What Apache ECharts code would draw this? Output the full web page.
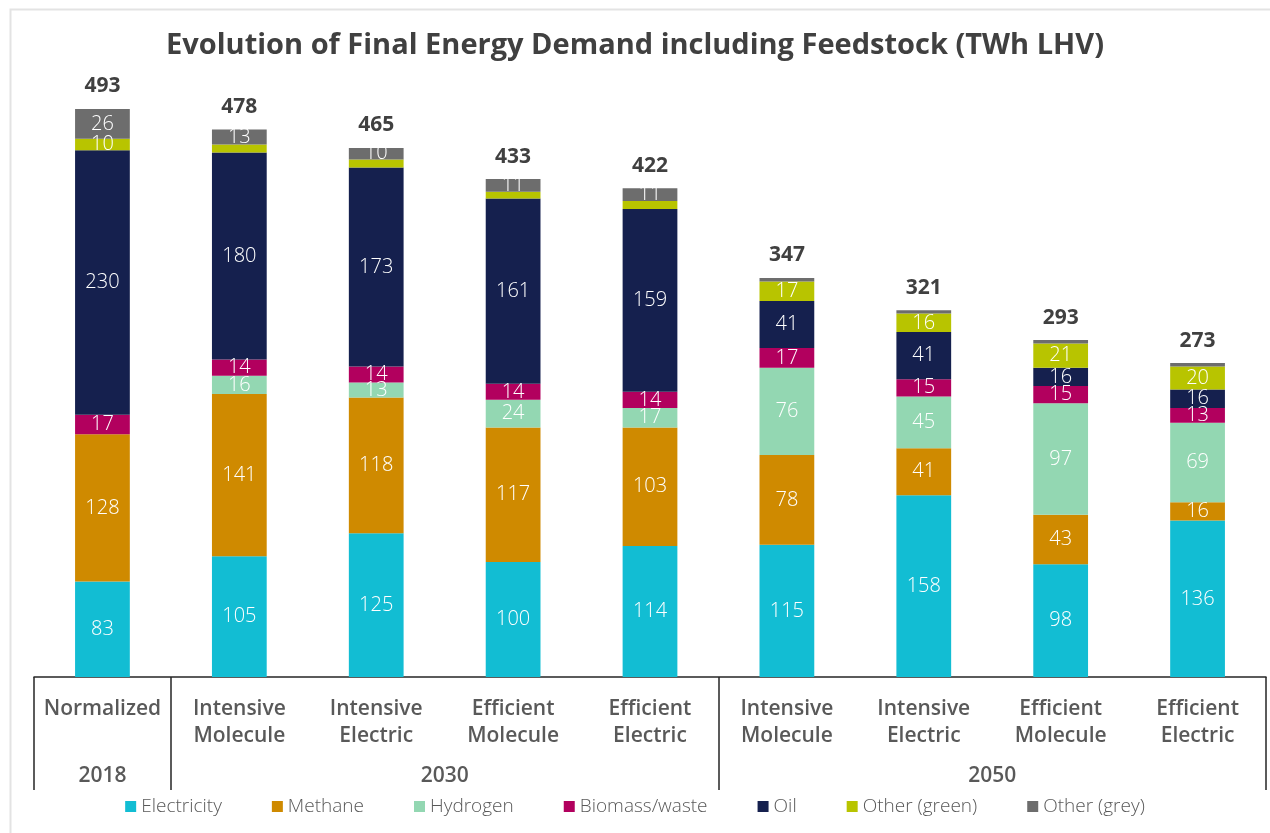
<!DOCTYPE html>
<html>
<head>
<meta charset="utf-8">
<script src="https://cdn.jsdelivr.net/npm/echarts@6/dist/echarts.min.js"></script>
<style>html,body{margin:0;padding:0;background:#fff}#chart{width:1270px;height:833px}</style>
</head>
<body>
<div id="chart"></div>
<script>
var scenarios = ['Normalized', 'Intensive\nMolecule', 'Intensive\nElectric', 'Efficient\nMolecule', 'Efficient\nElectric',
    'Intensive\nMolecule', 'Intensive\nElectric', 'Efficient\nMolecule', 'Efficient\nElectric'];
var years = ['2018', '2030', '2050'];
var yearBounds = [0, 1, 5, 9];    // group edges, in category units
var yearCenters = [0.5, 3, 7];
var electricity = [83, 105, 125, 100, 114, 115, 158, 98, 136];
var methane = [128, 141, 118, 117, 103, 78, 41, 43, 16];
var hydrogen = [0, 16, 13, 24, 17, 76, 45, 97, 69];
var biomass = [17, 14, 14, 14, 14, 17, 15, 15, 13];
var oil = [230, 180, 173, 161, 159, 41, 41, 16, 16];
var otherGreen = [10, 7, 7, 6, 7, 17, 16, 21, 20];
var otherGrey = [26, 13, 10, 11, 11, 3, 3, 3, 3];
var totals = [493, 478, 465, 433, 422, 347, 321, 293, 273];

var FONT = 'Open Sans';
var myChart = echarts.init(document.getElementById('chart'));

function seg(name, data, color) {
    return {
        name: name,
        type: 'bar',
        stack: 'all',
        barWidth: '40%',
        data: data,
        itemStyle: {color: color},
        label: {
            show: true,
            color: '#fff',
            fontFamily: FONT,
            fontSize: 20,
            fontWeight: 300,
            formatter: function (p) {
                return p.value >= 8 ? p.value : '';
            }
        }
    };
}

var option = {
    animation: false,
    // light frame round the picture
    graphic: [{
        type: 'rect',
        left: 8,
        top: 7,
        shape: {width: 1280, height: 840},
        style: {fill: 'none', stroke: '#e3e3e3', lineWidth: 2},
        silent: true
    }],
    title: {
        text: 'Evolution of Final Energy Demand including Feedstock (TWh LHV)',
        left: 'center',
        top: 26,
        textStyle: {fontFamily: FONT, fontSize: 29, fontWeight: 'bold', color: '#404040'}
    },
    legend: {
        data: ['Electricity', 'Methane', 'Hydrogen', 'Biomass/waste', 'Oil', 'Other (green)', 'Other (grey)'],
        top: 792,
        left: 'center',
        icon: 'rect',
        itemWidth: 11,
        itemHeight: 11,
        itemGap: 50,
        textStyle: {fontFamily: FONT, fontSize: 19, fontWeight: 300, color: '#595959'}
    },
    grid: {left: 34, right: 4, top: 79, bottom: 156},
    xAxis: [{
        type: 'category',
        position: 'bottom',
        data: scenarios,
        axisLine: {show: false},
        axisTick: {show: false},
        axisLabel: {
            interval: 0,
            margin: 19,
            verticalAlign: 'top',
            lineHeight: 27,
            fontFamily: FONT,
            fontSize: 21,
            fontWeight: 600,
            color: '#595959'
        }
    }, {
        type: 'value',
        position: 'bottom',
        min: 0,
        max: 9,
        axisLine: {show: true, lineStyle: {color: '#262626', width: 1.5}},
        axisTick: {
            show: true,
            customValues: yearBounds,
            length: 113,
            lineStyle: {color: '#262626', width: 1.5}
        },
        axisLabel: {
            customValues: yearCenters,
            margin: 89,
            verticalAlign: 'top',
            fontFamily: FONT,
            fontSize: 21,
            fontWeight: 600,
            color: '#595959',
            formatter: function (v) {
                return years[yearCenters.indexOf(v)];
            }
        },
        splitLine: {show: false}
    }],
    yAxis: {
        type: 'value',
        min: 0,
        max: 520,
        show: false,
        splitLine: {show: false}
    },
    series: [
        seg('Electricity', electricity, '#12BDD3'),
        seg('Methane', methane, '#CF8A00'),
        seg('Hydrogen', hydrogen, '#93D7B2'),
        seg('Biomass/waste', biomass, '#B2005E'),
        seg('Oil', oil, '#15204E'),
        seg('Other (green)', otherGreen, '#B8C400'),
        seg('Other (grey)', otherGrey, '#6D6D6D'),
        {
            name: 'Total',
            type: 'bar',
            stack: 'all',
            barWidth: '40%',
            data: totals.map(function () { return 0; }),
            label: {
                show: true,
                position: 'top',
                distance: 12,
                fontFamily: FONT,
                fontSize: 21,
                fontWeight: 'bold',
                color: '#404040',
                formatter: function (p) {
                    return totals[p.dataIndex];
                }
            }
        }
    ]
};

myChart.setOption(option);
</script>
</body>
</html>
